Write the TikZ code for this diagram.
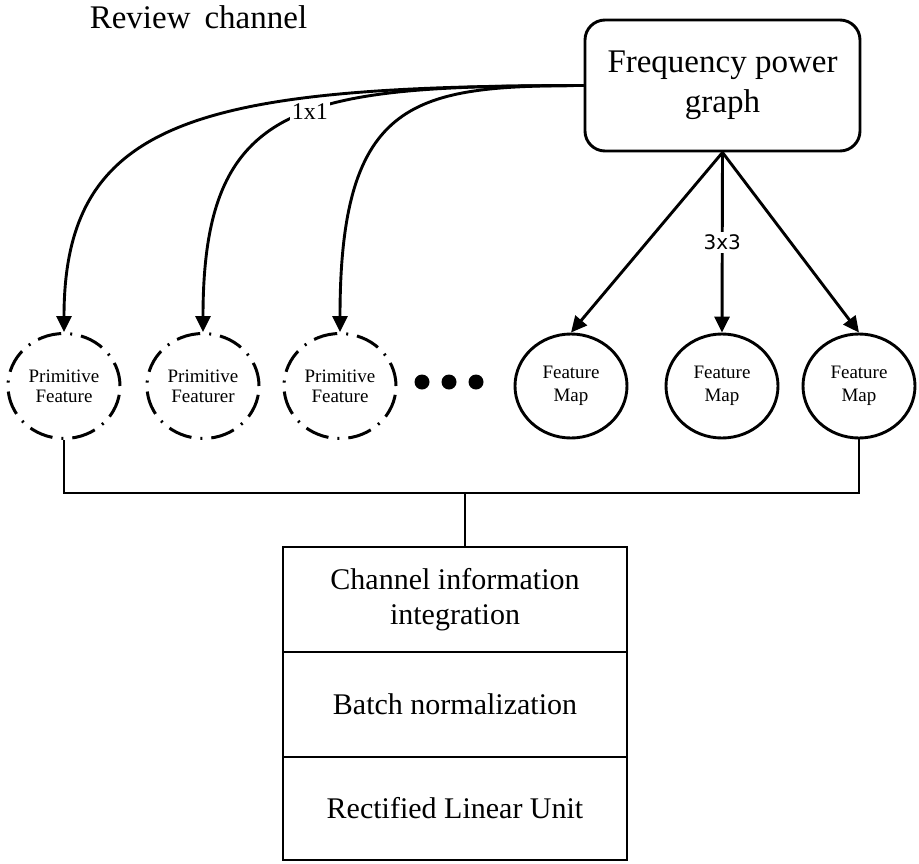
\documentclass[tikz,border=0pt]{standalone}
\usepackage{fontspec}
\setmainfont{Liberation Serif}
\newfontfamily\labelsans{DejaVu Sans}
\usetikzlibrary{shapes.geometric,arrows.meta}

\begin{document}
\begin{tikzpicture}[x=1pt,y=-1pt,
  line width=2.9pt,
  arr/.style={-{Triangle[length=16pt,width=15pt]}},
  rbox/.style={draw,rounded corners=20pt,minimum width=275pt,minimum height=131pt,
    align=center,inner sep=0pt,font=\fontsize{33}{40}\selectfont},
  prim/.style={draw,ellipse,minimum width=112pt,minimum height=105pt,inner sep=0pt,
    align=center,line width=3pt,dash pattern=on 24pt off 9pt on 2pt off 9pt,
    font=\fontsize{19}{20}\selectfont},
  fmap/.style={draw,ellipse,minimum width=112pt,minimum height=104pt,inner sep=0pt,
    align=center,font=\fontsize{19}{23}\selectfont},
  layer/.style={draw,rectangle,minimum width=344pt,inner sep=0pt,align=center,
    font=\fontsize{30}{35}\selectfont},
  dotmark/.style={circle,fill=black,minimum size=15pt,inner sep=0pt}
]
\useasboundingbox (0,0) rectangle (919,863);

% title
\node[anchor=base west,font=\fontsize{33}{38}\selectfont] (title) at (85,28) {Review\hspace{14pt}channel};

% source box
\node[rbox] (fpg) at (722.5,85.5) {Frequency power\\graph};

% primitive features (1x1 branch)
\node[prim] (p1) at (64,386) {Primitive\\Feature};
\node[prim] (p2) at (203,386) {Primitive\\Featurer};
\node[prim] (p3) at (340,386) {Primitive\\Feature};

% ellipsis dots
\node[dotmark] (d1) at (422,382) {};
\node[dotmark] (d2) at (449,382) {};
\node[dotmark] (d3) at (476,382) {};

% feature maps (3x3 branch)
\node[fmap] (f1) at (571,386) {Feature\\Map};
\node[fmap] (f2) at (722,386) {Feature\\Map};
\node[fmap] (f3) at (859,386) {Feature\\Map};

% 1x1 curved connectors
\draw[arr] (fpg.west) .. controls (200,86) and (64,118) .. (p1.north);
\draw[arr] (fpg.west) .. controls (300,86) and (203,100) .. (p2.north)
  node[pos=0.44,fill=white,inner sep=2pt,font=\fontsize{24}{24}\selectfont] (lab1) {1x1};
\draw[arr] (fpg.west) .. controls (415,86) and (340,97) .. (p3.north);

% 3x3 straight connectors
\coordinate (src) at (fpg.south);
\draw[arr] (src) -- (f1.north);
\draw[arr] (src) -- (f2.north)
  node[pos=0.5,fill=white,inner sep=3pt,font=\labelsans\fontsize{20}{20}\selectfont] (lab3) {3x3};
\draw[arr] (src) -- (f3.north);

% processing stack
\node[layer,minimum height=105pt] (s1) at (455,599.5) {Channel information\\integration};
\node[layer,minimum height=105pt] (s2) at (455,704.5) {Batch normalization};
\node[layer,minimum height=103pt] (s3) at (455,808.5) {Rectified Linear Unit};

% gathering bus
\coordinate (bus) at (465,493);
\draw (p1.south) |- (bus) -| (f3.south);
\draw (bus) -- (bus |- s1.north);
\end{tikzpicture}
\end{document}
